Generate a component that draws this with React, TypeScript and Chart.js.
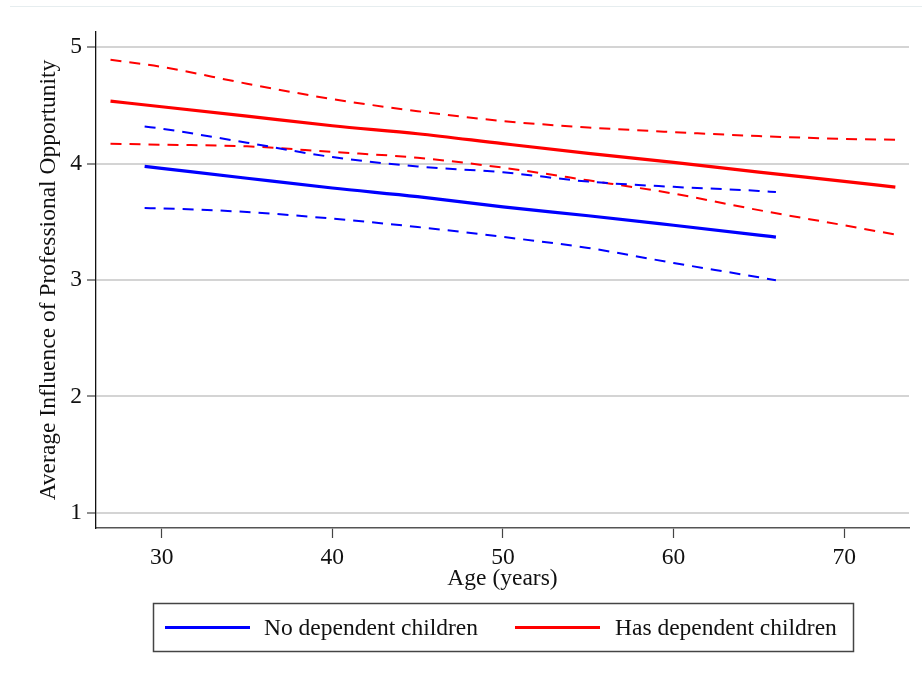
import React, { useEffect, useRef } from "react";
import { Chart, registerables } from "chart.js";

Chart.register(...registerables);

// Ages (years)
const noChildAges = [29, 30, 35, 40, 45, 50, 55, 60, 65, 66];
const hasChildAges = [27, 30, 35, 40, 45, 50, 55, 60, 65, 70, 73];

// No dependent children: prediction and 95% CI
const noChildMean = [3.976, 3.959, 3.874, 3.79, 3.716, 3.628, 3.552, 3.47, 3.386, 3.369];
const noChildUpper = [4.319, 4.3, 4.179, 4.056, 3.975, 3.925, 3.845, 3.8, 3.765, 3.755];
const noChildLower = [3.618, 3.615, 3.584, 3.527, 3.455, 3.37, 3.275, 3.146, 3.023, 2.997];

// Has dependent children: prediction and 95% CI
const hasChildMean = [4.536, 4.488, 4.407, 4.325, 4.256, 4.171, 4.088, 4.01, 3.927, 3.847, 3.798];
const hasChildUpper = [4.892, 4.83, 4.686, 4.554, 4.45, 4.365, 4.31, 4.27, 4.236, 4.212, 4.205];
const hasChildLower = [4.171, 4.162, 4.148, 4.1, 4.05, 3.965, 3.856, 3.742, 3.6, 3.47, 3.39];

const xTicks = [30, 40, 50, 60, 70];
const yTicks = [1, 2, 3, 4, 5];

const seriesLabels = ["No dependent children", "Has dependent children"];
const xTitle = "Age (years)";
const yTitle = "Average Influence of Professional Opportunity";

const BLUE = "#0000ff";
const RED = "#ff0000";
const FONT = "'Liberation Serif', 'Times New Roman', serif";
const FS = 23.5;

const pts = (xs: number[], ys: number[]) => xs.map((x, i) => ({ x, y: ys[i] }));

const legendPlugin = {
  id: "stataLegend",
  afterDraw(chart: any) {
    const ctx = chart.ctx;
    ctx.save();
    // faint top border line
    ctx.fillStyle = "#e6edef";
    ctx.fillRect(10, 6, 912, 1);
    // legend box
    ctx.strokeStyle = "#444";
    ctx.lineWidth = 1.5;
    ctx.strokeRect(153.5, 603.5, 700, 48);
    const y = 627.5;
    const items = [
      { color: BLUE, x0: 165, x1: 250, tx: 264, label: seriesLabels[0] },
      { color: RED, x0: 515, x1: 600, tx: 615, label: seriesLabels[1] },
    ];
    ctx.font = `${FS}px ${FONT}`;
    ctx.textBaseline = "middle";
    ctx.textAlign = "left";
    for (const it of items) {
      ctx.strokeStyle = it.color;
      ctx.lineWidth = 3;
      ctx.beginPath();
      ctx.moveTo(it.x0, y);
      ctx.lineTo(it.x1, y);
      ctx.stroke();
      ctx.fillStyle = "#111";
      ctx.fillText(it.label, it.tx, y + 1);
    }
    ctx.restore();
  },
};

export default function App() {
  const ref = useRef<HTMLCanvasElement | null>(null);

  useEffect(() => {
    document.body.style.margin = "0";
    const canvas = ref.current;
    if (!canvas) return;
    const dashed = [11, 8];
    const chart = new Chart(canvas, {
      type: "line",
      data: {
        datasets: [
          { label: "nc-upper", data: pts(noChildAges, noChildUpper), borderColor: BLUE, borderWidth: 2, borderDash: dashed },
          { label: "nc-lower", data: pts(noChildAges, noChildLower), borderColor: BLUE, borderWidth: 2, borderDash: dashed },
          { label: "hc-upper", data: pts(hasChildAges, hasChildUpper), borderColor: RED, borderWidth: 2, borderDash: dashed },
          { label: "hc-lower", data: pts(hasChildAges, hasChildLower), borderColor: RED, borderWidth: 2, borderDash: dashed },
          { label: seriesLabels[0], data: pts(noChildAges, noChildMean), borderColor: BLUE, borderWidth: 3.2 },
          { label: seriesLabels[1], data: pts(hasChildAges, hasChildMean), borderColor: RED, borderWidth: 3.2 },
        ].map((d) => ({ ...d, pointRadius: 0, fill: false, cubicInterpolationMode: "monotone" })),
      },
      options: {
        responsive: false,
        animation: false,
        events: [],
        layout: { padding: { left: 0, top: 32, right: 13, bottom: 0 } },
        plugins: { legend: { display: false }, tooltip: { enabled: false } },
        scales: {
          x: {
            type: "linear",
            min: 26.15,
            max: 73.8,
            afterFit: (s: any) => {
              s.height = 146;
            },
            afterBuildTicks: (s: any) => {
              s.ticks = xTicks.map((v) => ({ value: v }));
            },
            grid: { drawOnChartArea: false, tickLength: 10, tickColor: "#444", tickWidth: 1.2 },
            border: { color: "#555", width: 1.6 },
            ticks: { color: "#111", font: { family: FONT, size: FS }, padding: 6, maxRotation: 0 },
            title: {
              display: true,
              text: xTitle,
              color: "#111",
              font: { family: FONT, size: FS },
              padding: { top: 0, bottom: 81 },
            },
          },
          y: {
            type: "linear",
            min: 0.87,
            max: 5.13,
            afterFit: (s: any) => {
              s.width = 96;
            },
            afterBuildTicks: (s: any) => {
              s.ticks = yTicks.map((v) => ({ value: v }));
            },
            grid: { color: "#d4d4d4", lineWidth: 2, tickLength: 9, tickColor: "#444", tickWidth: 1.2 },
            border: { color: "#111", width: 1.3 },
            ticks: { color: "#111", font: { family: FONT, size: FS }, padding: 5 },
            title: {
              display: true,
              text: yTitle,
              color: "#111",
              font: { family: FONT, size: FS },
              padding: { top: 35, bottom: 0 },
            },
          },
        },
      },
      plugins: [legendPlugin],
    } as any);
    return () => chart.destroy();
  }, []);

  return (
    <div style={{ width: 922, height: 674, background: "#fff" }}>
      <canvas ref={ref} width={922} height={674} style={{ display: "block" }} />
    </div>
  );
}
